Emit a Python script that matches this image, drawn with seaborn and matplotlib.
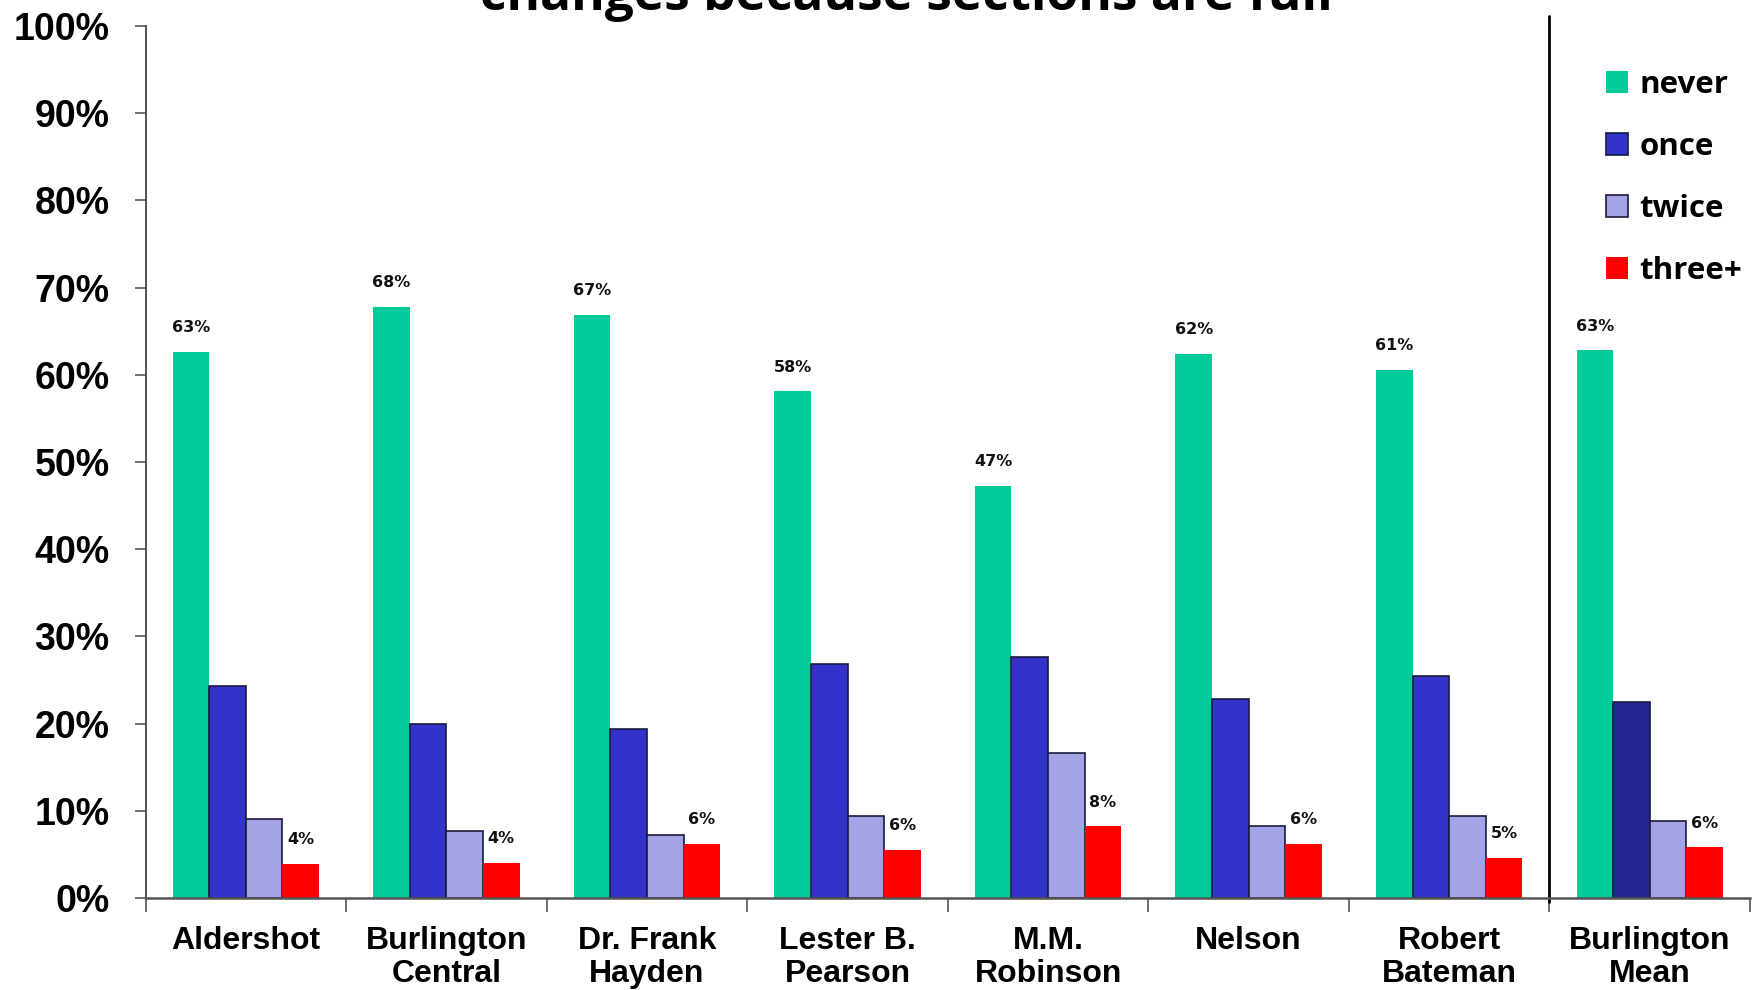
import numpy as np
import pandas as pd
import matplotlib
matplotlib.use("Agg")
import matplotlib.pyplot as plt
import seaborn as sns
from matplotlib.patches import Patch

schools = ["Aldershot", "Burlington\nCentral", "Dr. Frank\nHayden", "Lester B.\nPearson",
           "M.M.\nRobinson", "Nelson", "Robert\nBateman", "Burlington\nMean"]
series = ["never", "once", "twice", "three+"]
never = [62.6, 67.8, 66.9, 58.1, 47.3, 62.4, 60.6, 62.8]
once = [24.3, 20.0, 19.4, 26.8, 27.6, 22.8, 25.5, 22.5]
twice = [9.1, 7.7, 7.2, 9.4, 16.6, 8.3, 9.4, 8.8]
three_plus = [3.9, 4.0, 6.2, 5.5, 8.2, 6.2, 4.6, 5.8]
title_text = "changes because sections are full"

colors = {"never": "#00CC99", "once": "#3333CC", "twice": "#A3A3E6", "three+": "#FF0000"}
mean_once_color = "#262693"

sns.set_theme(style="white")
plt.rcParams["font.family"] = ["Liberation Sans", "DejaVu Sans"]
plt.rcParams["text.color"] = "black"
plt.rcParams["xtick.color"] = "black"
plt.rcParams["ytick.color"] = "black"

df = pd.DataFrame({
    "school": np.repeat(schools, 4),
    "series": series * len(schools),
    "value": np.ravel(np.column_stack([never, once, twice, three_plus])) / 100.0,
})

fig = plt.figure(figsize=(17.56, 9.90), dpi=100)
ax = fig.add_axes([145.6 / 1756, 1 - 898 / 990, (1750 - 145.6) / 1756, (898 - 26) / 990])

sns.barplot(data=df, x="school", y="value", hue="series", order=schools, hue_order=series,
            palette=colors, width=0.73, saturation=1, ax=ax, legend=False)

# edges & special colour for the mean "once" bar
n = len(schools)
for i, p in enumerate(ax.patches[:4 * n]):
    s = series[i // n]
    j = i % n
    if s in ("once", "twice"):
        p.set_edgecolor("#1a1a40")
        p.set_linewidth(1.2)
    else:
        p.set_edgecolor("none")
    if s == "once" and j == n - 1:
        p.set_facecolor(mean_once_color)

# value labels on never and three+
for i, p in enumerate(ax.patches[:4 * n]):
    s = series[i // n]
    if s in ("never", "three+"):
        h = p.get_height()
        ax.annotate(f"{h * 100:.0f}%", (p.get_x() + p.get_width() / 2, h),
                    xytext=(0, 12), textcoords="offset points", ha="center", va="bottom",
                    fontsize=11.5, fontweight="bold", family="DejaVu Sans", color="#111111")

ax.set_ylim(0, 1.0)
ax.set_xlim(-0.5, n - 0.5)
ax.set_yticks(np.arange(0, 1.01, 0.1))
ax.set_yticklabels([f"{int(v)}%" for v in np.arange(0, 101, 10)], fontsize=27, fontweight="bold")
ax.tick_params(axis="y", which="major", direction="out", length=8, width=1.2, color="#555555",
               pad=18, left=True, labelcolor="black")

# category boundaries as major ticks, labels at minor ticks
ax.set_xticks(np.arange(-0.5, n, 1.0))
ax.set_xticklabels([])
ax.set_xticks(np.arange(n), minor=True)
ax.set_xticklabels(schools, minor=True, fontsize=23, fontweight="bold", linespacing=1.15)
ax.tick_params(axis="x", which="major", direction="out", length=10, width=1.2, color="#555555",
               bottom=True)
ax.tick_params(axis="x", which="minor", length=0, pad=20, labelcolor="black")

for sp in ["top", "right"]:
    ax.spines[sp].set_visible(False)
ax.spines["left"].set_color("#444444")
ax.spines["left"].set_linewidth(1.3)
ax.spines["bottom"].set_color("#555555")
ax.spines["bottom"].set_linewidth(1.8)
ax.set_xlabel("")
ax.set_ylabel("")

# separator line before the mean group
ax.plot([n - 1.5, n - 1.5], [-0.005, 1.012], color="black", lw=2, clip_on=False)

# legend
handles = [Patch(facecolor=colors[s], edgecolor=("#1a1a40" if s in ("once", "twice") else "none"),
                 linewidth=1.2) for s in series]
leg = fig.legend(handles, series, loc="upper left",
                 bbox_to_anchor=(1606 / 1756, 1 - 70 / 990), frameon=False,
                 prop={"family": "Open Sans", "weight": "bold", "size": 22.5},
                 handlelength=0.72, handleheight=0.72, handletextpad=0.35,
                 labelspacing=1.02, borderpad=0, borderaxespad=0)
for t in leg.get_texts():
    t.set_color("black")

# title (partially cut off at the top, as in the reference)
fig.text(906 / 1756, 1 - 10 / 990, title_text, ha="center", va="baseline",
         fontsize=37, fontweight="bold", family="Open Sans", color="black")

fig.savefig("out.png", dpi=100)
